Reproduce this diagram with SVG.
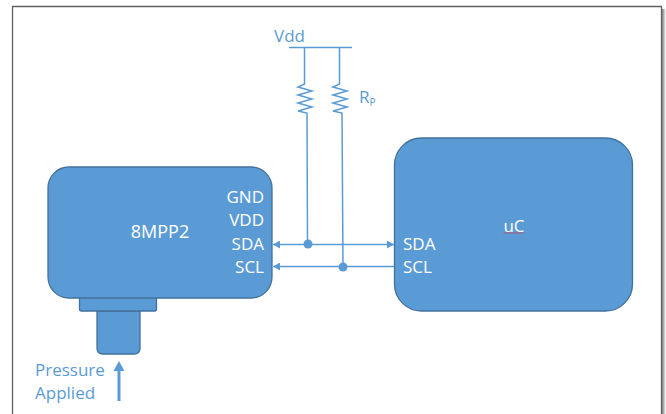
<svg xmlns="http://www.w3.org/2000/svg" width="666" height="414" viewBox="0 0 666 414">
<defs>
<style>
text{font-family:"Open Sans","Noto Sans","Liberation Sans",sans-serif}
.w{fill:#fff;font-size:17px}
.b{fill:#5b9bd5;font-size:17px}
.box{fill:#5b9bd5;stroke:#41719c;stroke-width:1.300}
.ln{fill:none;stroke:#5b9bd5;stroke-width:1.500}
</style>
<marker id="ah" markerUnits="userSpaceOnUse" markerWidth="8" markerHeight="8" refX="7" refY="4" orient="auto-start-reverse"><path d="M0 0L7 4L0 8Z" fill="#5b9bd5"/></marker>
<linearGradient id="sh" x1="0" x2="1" y1="0" y2="0"><stop offset="0" stop-color="#666"/><stop offset="0.500" stop-color="#aaa"/><stop offset="1" stop-color="#fff"/></linearGradient>
</defs>
<rect width="666" height="414" fill="#fff"/>
<rect x="661" y="9" width="5" height="405" fill="url(#sh)"/>
<path d="M12.500 414V6.500H661.500V414" fill="none" stroke="#606060" stroke-width="1.300"/>
<g id="connectors">
<path class="ln" d="M289 47.500H352"/>
<path class="ln" d="M304.500 48V84L298 87L312 91L298 95L312 99L298 103L312 107L298 111L307 113L307.500 243"/>
<path class="ln" d="M339.500 48V84L333 87L347 91L333 95L347 99L333 103L347 107L333 111L342 113L343 267"/>
<path class="ln" marker-start="url(#ah)" marker-end="url(#ah)" d="M273 244.500H394"/>
<path class="ln" marker-start="url(#ah)" d="M273 266.500H394"/>
<circle cx="308" cy="244" r="4.500" fill="#5b9bd5"/>
<circle cx="343" cy="267" r="4.500" fill="#5b9bd5"/>
</g>
<g id="tube"><path class="box" d="M97 311H140V348Q140 354 134 354H103Q97 354 97 348Z"/></g>
<g id="flange"><path class="box" d="M79.500 297H156.500V309Q156.500 311 154.500 311H81.500Q79.500 311 79.500 309Z"/></g>
<g id="sensor"><rect class="box" x="48" y="167" width="224" height="131" rx="21"/>
<text class="w" x="160" y="238" text-anchor="middle" font-size="18" style="font-size:18px">8MPP2</text>
<text class="w" x="264" y="203" text-anchor="end">GND</text>
<text class="w" x="264" y="226" text-anchor="end">VDD</text>
<text class="w" x="264" y="250" text-anchor="end">SDA</text>
<text class="w" x="264" y="273" text-anchor="end">SCL</text></g>
<g id="uc"><rect class="box" x="394.500" y="138" width="238" height="173" rx="27"/>
<text class="w" x="514" y="232" text-anchor="middle">uC</text>
<path d="M503.500 233.500l2 -1l2 1l2 -1l2 1l2 -1l2 1l2 -1l2 1l2 -1l2 1" fill="none" stroke="#c0506a" stroke-width="1"/>
<text class="w" x="403" y="250">SDA</text>
<text class="w" x="403" y="273">SCL</text></g>
<g id="labels">
<text class="b" x="274" y="42">Vdd</text>
<text class="b" x="359" y="103">R<tspan style="font-size:10px" dy="3">P</tspan></text>
<text class="b" x="35" y="376">Pressure</text>
<text class="b" x="35" y="399">Applied</text>
<path d="M119 401V370" fill="none" stroke="#5b9bd5" stroke-width="3"/>
<path d="M119 361L124.500 371H113.500Z" fill="#5b9bd5"/>
</g>
</svg>
